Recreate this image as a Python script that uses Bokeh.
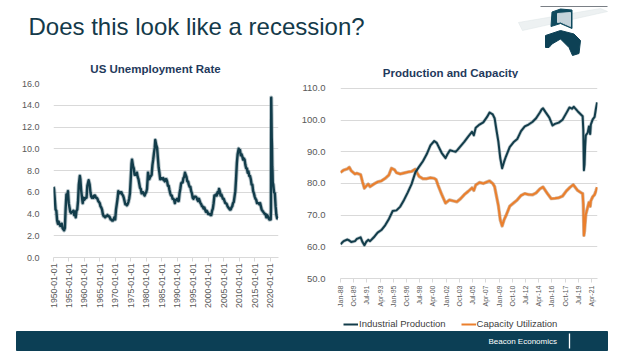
import math
from bokeh.plotting import figure
from bokeh.layouts import column, row
from bokeh.models import (Range1d, FixedTicker, NumeralTickFormatter, Legend,
                          LegendItem, ColumnDataSource)
from bokeh.embed import file_html
from bokeh.resources import INLINE
from bokeh.core.properties import value

FONT = "Liberation Sans"

SLIDE_TITLE = "Does this look like a recession?"
UNEMP_TITLE = "US Unemployment Rate"
PROD_TITLE = "Production and Capacity"
FOOTER_TEXT = "Beacon Economics"

# ---------------- US unemployment rate (%) ----------------
unemp_dates = [
    "1950-01", "1950-03", "1950-06", "1950-09", "1950-12", "1951-03", "1951-06", "1951-09", "1951-12",
    "1952-03", "1952-06", "1952-09", "1952-12", "1953-03", "1953-06", "1953-09", "1953-12",
    "1954-03", "1954-06", "1954-09", "1954-12", "1955-03", "1955-06", "1955-09", "1955-12",
    "1956-03", "1956-06", "1956-09", "1956-12", "1957-03", "1957-06", "1957-09", "1957-12",
    "1958-03", "1958-07", "1958-09", "1958-12", "1959-03", "1959-06", "1959-09", "1959-12",
    "1960-03", "1960-06", "1960-09", "1960-12", "1961-03", "1961-05", "1961-09", "1961-12",
    "1962-03", "1962-06", "1962-09", "1962-12", "1963-03", "1963-06", "1963-09", "1963-12",
    "1964-03", "1964-06", "1964-09", "1964-12", "1965-03", "1965-06", "1965-09", "1965-12",
    "1966-03", "1966-06", "1966-09", "1966-12", "1967-03", "1967-06", "1967-09", "1967-12",
    "1968-03", "1968-06", "1968-09", "1968-12", "1969-03", "1969-06", "1969-09", "1969-12",
    "1970-03", "1970-06", "1970-09", "1970-12", "1971-03", "1971-06", "1971-09", "1971-12",
    "1972-03", "1972-06", "1972-09", "1972-12", "1973-03", "1973-06", "1973-09", "1973-12",
    "1974-03", "1974-06", "1974-09", "1974-12", "1975-03", "1975-05", "1975-09", "1975-12",
    "1976-03", "1976-06", "1976-09", "1976-12", "1977-03", "1977-06", "1977-09", "1977-12",
    "1978-03", "1978-06", "1978-09", "1978-12", "1979-03", "1979-06", "1979-09", "1979-12",
    "1980-03", "1980-07", "1980-09", "1980-12", "1981-03", "1981-06", "1981-09", "1981-12",
    "1982-03", "1982-06", "1982-09", "1982-11", "1983-03", "1983-06", "1983-09", "1983-12",
    "1984-03", "1984-06", "1984-09", "1984-12", "1985-03", "1985-06", "1985-09", "1985-12",
    "1986-03", "1986-06", "1986-09", "1986-12", "1987-03", "1987-06", "1987-09", "1987-12",
    "1988-03", "1988-06", "1988-09", "1988-12", "1989-03", "1989-06", "1989-09", "1989-12",
    "1990-03", "1990-06", "1990-09", "1990-12", "1991-03", "1991-06", "1991-09", "1991-12",
    "1992-03", "1992-06", "1992-09", "1992-12", "1993-03", "1993-06", "1993-09", "1993-12",
    "1994-03", "1994-06", "1994-09", "1994-12", "1995-03", "1995-06", "1995-09", "1995-12",
    "1996-03", "1996-06", "1996-09", "1996-12", "1997-03", "1997-06", "1997-09", "1997-12",
    "1998-03", "1998-06", "1998-09", "1998-12", "1999-03", "1999-06", "1999-09", "1999-12",
    "2000-03", "2000-06", "2000-09", "2000-12", "2001-03", "2001-06", "2001-09", "2001-12",
    "2002-03", "2002-06", "2002-09", "2002-12", "2003-03", "2003-06", "2003-09", "2003-12",
    "2004-03", "2004-06", "2004-09", "2004-12", "2005-03", "2005-06", "2005-09", "2005-12",
    "2006-03", "2006-06", "2006-09", "2006-12", "2007-03", "2007-06", "2007-09", "2007-12",
    "2008-03", "2008-06", "2008-09", "2008-12", "2009-03", "2009-06", "2009-10", "2009-12",
    "2010-03", "2010-06", "2010-09", "2010-12", "2011-03", "2011-06", "2011-09", "2011-12",
    "2012-03", "2012-06", "2012-09", "2012-12", "2013-03", "2013-06", "2013-09", "2013-12",
    "2014-03", "2014-06", "2014-09", "2014-12", "2015-03", "2015-06", "2015-09", "2015-12",
    "2016-03", "2016-06", "2016-09", "2016-12", "2017-03", "2017-06", "2017-09", "2017-12",
    "2018-03", "2018-06", "2018-09", "2018-12", "2019-03", "2019-06", "2019-09", "2019-12",
    "2020-02", "2020-03", "2020-04", "2020-05", "2020-06", "2020-07", "2020-08", "2020-09",
    "2020-10", "2020-12", "2021-03", "2021-06", "2021-09", "2021-12", "2022-03", "2022-06",
]
unemp_values = [
    6.5, 6.3, 5.4, 4.4, 4.3, 3.4, 3.1, 3.3, 3.1,
    2.9, 3.0, 3.1, 2.7, 2.6, 2.5, 2.7, 4.5,
    5.8, 5.6, 6.1, 5.0, 4.6, 4.2, 4.1, 4.2,
    4.2, 4.3, 3.9, 4.2, 3.7, 4.3, 4.4, 5.2,
    6.7, 7.5, 7.2, 6.2, 5.6, 5.0, 5.5, 5.3,
    5.4, 5.5, 5.5, 6.6, 6.9, 7.1, 6.7, 6.0,
    5.6, 5.5, 5.6, 5.5, 5.7, 5.7, 5.5, 5.5,
    5.4, 5.2, 5.1, 5.0, 4.7, 4.6, 4.4, 4.0,
    3.8, 3.8, 3.7, 3.8, 3.8, 3.9, 3.8, 3.8,
    3.7, 3.5, 3.5, 3.4, 3.4, 3.5, 3.7, 3.5,
    4.4, 4.9, 5.4, 6.1, 6.0, 5.9, 6.0, 6.0,
    5.8, 5.7, 5.5, 5.2, 4.9, 4.9, 4.8, 4.9,
    5.1, 5.4, 5.9, 7.2, 8.6, 9.0, 8.4, 8.2,
    7.6, 7.6, 7.6, 7.8, 7.4, 7.2, 6.8, 6.4,
    6.3, 5.9, 6.0, 6.0, 5.8, 5.7, 5.9, 6.0,
    6.3, 7.8, 7.5, 7.2, 7.4, 7.5, 7.6, 8.5,
    9.0, 9.6, 10.1, 10.8, 10.3, 10.1, 9.2, 8.3,
    7.8, 7.2, 7.3, 7.3, 7.2, 7.3, 7.1, 7.0,
    7.2, 7.2, 7.0, 6.6, 6.6, 6.2, 5.9, 5.7,
    5.7, 5.4, 5.4, 5.3, 5.0, 5.3, 5.3, 5.4,
    5.2, 5.2, 5.9, 6.3, 6.8, 6.9, 6.9, 7.3,
    7.4, 7.8, 7.6, 7.4, 7.0, 7.0, 6.7, 6.5,
    6.5, 6.1, 5.9, 5.5, 5.4, 5.6, 5.6, 5.6,
    5.5, 5.3, 5.2, 5.4, 5.2, 5.0, 4.9, 4.7,
    4.7, 4.5, 4.6, 4.4, 4.2, 4.3, 4.2, 4.0,
    4.0, 4.0, 3.9, 3.9, 4.3, 4.5, 5.0, 5.7,
    5.7, 5.8, 5.7, 6.0, 5.9, 6.3, 6.1, 5.7,
    5.8, 5.6, 5.4, 5.4, 5.2, 5.0, 5.0, 4.9,
    4.7, 4.6, 4.5, 4.4, 4.4, 4.6, 4.7, 5.0,
    5.1, 5.6, 6.1, 7.3, 8.7, 9.5, 10.0, 9.9,
    9.9, 9.4, 9.5, 9.3, 9.0, 9.1, 9.0, 8.5,
    8.2, 8.2, 7.8, 7.9, 7.5, 7.5, 7.2, 6.7,
    6.7, 6.1, 5.9, 5.6, 5.4, 5.3, 5.0, 5.0,
    5.0, 4.9, 5.0, 4.7, 4.4, 4.3, 4.2, 4.1,
    4.0, 4.0, 3.7, 3.9, 3.8, 3.6, 3.5, 3.6,
    3.5, 4.4, 14.7, 13.2, 11.0, 10.2, 8.4, 7.9,
    6.9, 6.7, 6.0, 5.9, 4.7, 3.9, 3.6, 3.6,
]
unemp_y_ticks = [0, 2, 4, 6, 8, 10, 12, 14, 16]
unemp_x_labels = ["1950-01-01", "1955-01-01", "1960-01-01", "1965-01-01", "1970-01-01",
                  "1975-01-01", "1980-01-01", "1985-01-01", "1990-01-01", "1995-01-01",
                  "2000-01-01", "2005-01-01", "2010-01-01", "2015-01-01", "2020-01-01"]

# ---------------- Production and capacity ----------------
ip_dates = [
    "1988-01", "1988-06", "1988-12", "1989-03", "1989-06", "1989-12", "1990-03", "1990-09",
    "1990-12", "1991-03", "1991-06", "1991-09", "1991-12", "1992-06", "1992-12", "1993-06",
    "1993-12", "1994-06", "1994-12", "1995-06", "1995-12", "1996-06", "1996-12", "1997-06",
    "1997-12", "1998-06", "1998-12", "1999-06", "1999-12", "2000-06", "2000-10", "2001-03",
    "2001-06", "2001-12", "2002-03", "2002-07", "2002-12", "2003-04", "2003-07", "2003-12",
    "2004-06", "2004-12", "2005-06", "2005-09", "2005-12", "2006-06", "2006-12", "2007-06",
    "2007-10", "2008-03", "2008-06", "2008-09", "2008-12", "2009-03", "2009-06", "2009-09",
    "2009-12", "2010-06", "2010-12", "2011-06", "2011-12", "2012-06", "2012-12", "2013-06",
    "2013-12", "2014-06", "2014-09", "2014-11", "2015-03", "2015-09", "2016-02", "2016-06",
    "2016-12", "2017-06", "2017-12", "2018-05", "2018-09", "2018-12", "2019-06", "2019-12",
    "2020-02", "2020-03", "2020-04", "2020-05", "2020-06", "2020-07", "2020-10", "2020-12",
    "2021-02", "2021-03", "2021-06", "2021-09", "2021-11", "2022-01",
]
ip_values = [
    60.8, 61.8, 62.3, 62.0, 61.5, 61.8, 62.5, 63.0,
    61.5, 60.5, 61.6, 62.2, 61.8, 63.0, 64.5, 65.3,
    66.8, 68.8, 71.3, 71.5, 72.7, 74.8, 77.2, 79.8,
    83.5, 85.3, 87.0, 89.2, 92.0, 93.4, 92.8, 90.8,
    89.6, 88.0, 89.2, 90.5, 90.2, 90.0, 90.6, 91.8,
    93.2, 94.8, 96.3, 95.2, 97.6, 98.6, 99.3, 101.0,
    102.4, 101.8, 100.6, 96.8, 93.2, 88.0, 84.8, 86.8,
    88.5, 91.5, 93.0, 94.0, 96.5, 98.0, 98.6, 99.4,
    100.6, 102.4, 103.4, 103.7, 102.5, 100.8, 98.3, 98.8,
    99.2, 100.1, 102.2, 104.0, 103.6, 104.2, 102.8, 101.6,
    101.2, 97.0, 84.2, 86.0, 91.8, 95.2, 96.0, 98.0,
    95.6, 98.6, 100.2, 101.0, 103.5, 105.6,
]
cu_dates = [
    "1988-01", "1988-06", "1988-12", "1989-03", "1989-06", "1989-12", "1990-03", "1990-09",
    "1990-12", "1991-03", "1991-06", "1991-09", "1991-12", "1992-06", "1992-12", "1993-06",
    "1993-12", "1994-06", "1994-10", "1995-03", "1995-06", "1995-12", "1996-06", "1996-12",
    "1997-06", "1997-12", "1998-03", "1998-06", "1998-12", "1999-06", "1999-12", "2000-06",
    "2000-09", "2000-12", "2001-06", "2001-12", "2002-06", "2002-12", "2003-06", "2003-12",
    "2004-06", "2004-12", "2005-06", "2005-09", "2005-12", "2006-06", "2006-12", "2007-06",
    "2007-10", "2008-03", "2008-06", "2008-09", "2008-12", "2009-03", "2009-06", "2009-09",
    "2009-12", "2010-06", "2010-12", "2011-06", "2011-12", "2012-06", "2012-12", "2013-06",
    "2013-12", "2014-06", "2014-11", "2015-06", "2015-12", "2016-06", "2016-12", "2017-06",
    "2017-12", "2018-06", "2018-11", "2019-06", "2019-12", "2020-02", "2020-03", "2020-04",
    "2020-05", "2020-07", "2020-10", "2020-12", "2021-02", "2021-03", "2021-06", "2021-09",
    "2021-11", "2022-01",
]
cu_values = [
    83.5, 84.2, 84.6, 85.1, 84.0, 83.0, 83.2, 82.8,
    80.5, 78.5, 79.2, 79.8, 79.0, 79.8, 80.5, 80.8,
    81.6, 82.7, 84.8, 84.3, 83.4, 83.0, 83.3, 83.6,
    83.8, 84.5, 83.3, 82.2, 81.5, 81.5, 81.8, 81.6,
    81.2, 79.5, 76.5, 73.8, 74.8, 74.5, 74.2, 75.2,
    76.5, 77.5, 78.6, 77.8, 79.5, 80.3, 80.0, 80.5,
    80.8, 80.0, 79.0, 76.0, 73.0, 68.5, 66.6, 68.5,
    69.8, 72.8, 73.8, 74.8, 76.2, 76.8, 76.5, 76.4,
    77.0, 78.3, 78.9, 76.8, 75.2, 75.3, 75.5, 76.0,
    77.6, 78.8, 79.6, 77.8, 77.0, 76.8, 73.5, 63.6,
    65.0, 70.2, 72.5, 74.0, 72.8, 74.5, 75.8, 76.5,
    77.6, 78.8,
]
prod_y_ticks = [50, 60, 70, 80, 90, 100, 110]
prod_x_labels = ["Jan-88", "Oct-89", "Jul-91", "Apr-93", "Jan-95", "Oct-96", "Jul-98",
                 "Apr-00", "Jan-02", "Oct-03", "Jul-05", "Apr-07", "Jan-09", "Oct-10",
                 "Jul-12", "Apr-14", "Jan-16", "Oct-17", "Jul-19", "Apr-21"]
legend_labels = ["Industrial Production", "Capacity Utilization"]

# ---------------- helpers ----------------
MONTHS = ["Jan", "Feb", "Mar", "Apr", "May", "Jun", "Jul", "Aug", "Sep", "Oct", "Nov", "Dec"]


def dec_year(s):
    y, m = s.split("-")[:2]
    return int(y) + (int(m) - 1) / 12.0


def month_index(s):
    y, m = s.split("-")[:2]
    return (int(y) - 1988) * 12 + int(m) - 1


def label_index(lbl):
    mon, yy = lbl.split("-")
    yy = int(yy)
    year = 1900 + yy if yy > 50 else 2000 + yy
    return (year - 1988) * 12 + MONTHS.index(mon)


GRID = "#d9d9d9"
TICKC = "#595959"
DARK = "#123c4a"
ORANGE = "#eb7f2c"
TITLEC = "#1f3a5c"
W = 629
TOP_H = 78
FOOT_H = 48


def style_common(p):
    p.outline_line_color = None
    p.background_fill_color = "white"
    p.border_fill_color = "white"
    p.xgrid.visible = False
    p.ygrid.grid_line_color = GRID
    p.ygrid.grid_line_width = 1
    p.yaxis.axis_line_color = None
    p.yaxis.major_tick_line_color = None
    p.yaxis.minor_tick_line_color = None
    p.yaxis.major_label_text_color = TICKC
    p.yaxis.major_label_text_font = FONT
    p.yaxis.formatter = NumeralTickFormatter(format="0.0")
    p.xaxis.axis_line_color = GRID
    p.xaxis.major_tick_line_color = GRID
    p.xaxis.major_tick_out = 4
    p.xaxis.major_tick_in = 0
    p.xaxis.minor_tick_line_color = None
    p.xaxis.major_label_text_color = TICKC
    p.xaxis.major_label_text_font = FONT
    p.xaxis.major_label_orientation = math.pi / 2
    p.xaxis.major_label_standoff = 2


# ---------------- top strip: slide title, logo, chart titles ----------------
top = figure(width=W, height=TOP_H, x_range=Range1d(0, W), y_range=Range1d(TOP_H, 0),
             toolbar_location=None, output_backend="svg", min_border=0)
top.axis.visible = False
top.grid.visible = False
top.outline_line_color = None
top.text(x=[28], y=[26], text=[SLIDE_TITLE], text_font=value(FONT), text_font_size="24px",
         text_color="#143a4a", text_baseline="middle", text_align="left")
top.text(x=[155, 450], y=[68, 72], text=[UNEMP_TITLE, PROD_TITLE], text_font=value(FONT),
         text_font_size="11.5px", text_font_style="bold", text_color=TITLEC,
         text_baseline="middle", text_align="center")
# logo (decoration)
top.patch(x=[518, 600, 607, 522], y=[22, 8, 11, 30], color="#dfe5e8", alpha=0.55)
top.segment(x0=[540], y0=[6], x1=[607], y1=[6], line_color="#7a7f85", line_width=1.2)
top.patch(x=[551.5, 560, 571.5, 571.5, 560, 550.5], y=[11.5, 8.5, 9.5, 28, 23, 26],
          color="#0f4a5e")
top.patch(x=[557, 570, 570, 560, 557], y=[13, 12, 26, 21.5, 22], color="#c5d3da")
top.patch(x=[545, 560, 573.5, 580, 578.5, 572, 568.5, 560, 551.5, 548.5, 545],
          y=[35, 30, 33.5, 40, 53, 55, 47, 38.5, 43.5, 47, 47], color="#0d4155")

# ---------------- left chart ----------------
left = figure(frame_width=225, frame_height=174, x_range=Range1d(1950, 2022.6),
              y_range=Range1d(0, 16), toolbar_location=None, output_backend="svg",
              min_border_left=53, min_border_right=20, min_border_top=5, min_border_bottom=54)
style_common(left)
left.yaxis.ticker = FixedTicker(ticks=unemp_y_ticks)
left.ygrid.ticker = FixedTicker(ticks=unemp_y_ticks)
left.yaxis.major_label_text_font_size = "9px"
left.yaxis.major_label_standoff = 8
ux_ticks = [int(l[:4]) for l in unemp_x_labels]
left.xaxis.ticker = FixedTicker(ticks=ux_ticks)
left.xaxis.major_label_overrides = {t: l for t, l in zip(ux_ticks, unemp_x_labels)}
left.xaxis.major_label_text_font_size = "8.7px"
usrc = ColumnDataSource(dict(x=[dec_year(d) for d in unemp_dates], y=unemp_values))
left.line("x", "y", source=usrc, line_color="#6f8a93", line_width=4.2, line_alpha=0.5,
          line_join="round")
left.line("x", "y", source=usrc, line_color=DARK, line_width=2.4, line_join="round")

# ---------------- right chart ----------------
# frame top aligned with the left chart's frame top (5px above the 110 gridline)
right = figure(frame_width=257, frame_height=195, x_range=Range1d(0, 408.6),
               y_range=Range1d(50, 111.55), toolbar_location=None, output_backend="svg",
               min_border_left=38, min_border_right=W - 298 - 38 - 257, min_border_top=5,
               min_border_bottom=33)
style_common(right)
right.yaxis.ticker = FixedTicker(ticks=prod_y_ticks)
right.ygrid.ticker = FixedTicker(ticks=prod_y_ticks)
right.yaxis.major_label_text_font_size = "9.5px"
right.yaxis.major_label_standoff = 9
px_ticks = [label_index(l) for l in prod_x_labels]
right.xaxis.ticker = FixedTicker(ticks=px_ticks)
right.xaxis.major_label_overrides = {t: l for t, l in zip(px_ticks, prod_x_labels)}
right.xaxis.major_label_text_font_size = "7px"
right.xaxis.major_label_standoff = 3
ipsrc = ColumnDataSource(dict(x=[month_index(d) for d in ip_dates], y=ip_values))
cusrc = ColumnDataSource(dict(x=[month_index(d) for d in cu_dates], y=cu_values))
right.line("x", "y", source=cusrc, line_color="#a45a22", line_width=3.4, line_alpha=0.45,
           line_join="round")
right.line("x", "y", source=cusrc, line_color=ORANGE, line_width=2, line_join="round")
right.line("x", "y", source=ipsrc, line_color="#6f8a93", line_width=3.4, line_alpha=0.45,
           line_join="round")
right.line("x", "y", source=ipsrc, line_color=DARK, line_width=2, line_join="round")

# ---------------- footer: legend of the right chart + bar ----------------
foot = figure(width=W, height=FOOT_H, x_range=Range1d(0, W), y_range=Range1d(FOOT_H, 0),
              toolbar_location=None, output_backend="svg", min_border=0)
foot.axis.visible = False
foot.grid.visible = False
foot.outline_line_color = None
# legend key renderers (same styles as the chart series, kept outside the visible range)
ip_key = foot.line(x=[-30, -20], y=[-30, -30], line_color=DARK, line_width=2)
cu_key = foot.line(x=[-30, -20], y=[-30, -30], line_color=ORANGE, line_width=2)
legend = Legend(items=[LegendItem(label=legend_labels[0], renderers=[ip_key]),
                       LegendItem(label=legend_labels[1], renderers=[cu_key])],
                orientation="horizontal", location=(343, 30), glyph_width=15, glyph_height=10,
                label_text_font=FONT, label_text_font_size="9.5px", label_text_color="#404040",
                label_standoff=1, spacing=15, padding=0, margin=0, label_height=10,
                border_line_color=None, background_fill_alpha=0)
foot.add_layout(legend)
foot.quad(left=[16], right=[607], bottom=[39], top=[20], color="#0c3f55")
foot.text(x=[488], y=[29.5], text=[FOOTER_TEXT], text_font=value(FONT), text_font_size="8px",
          text_color="white", text_baseline="middle", text_align="left")
foot.segment(x0=[569], y0=[22], x1=[569], y1=[37], line_color="white", line_width=1.3)

layout = column(top, row(left, right, spacing=0), foot, spacing=0)
open("out.html", "w").write(file_html(layout, INLINE))
